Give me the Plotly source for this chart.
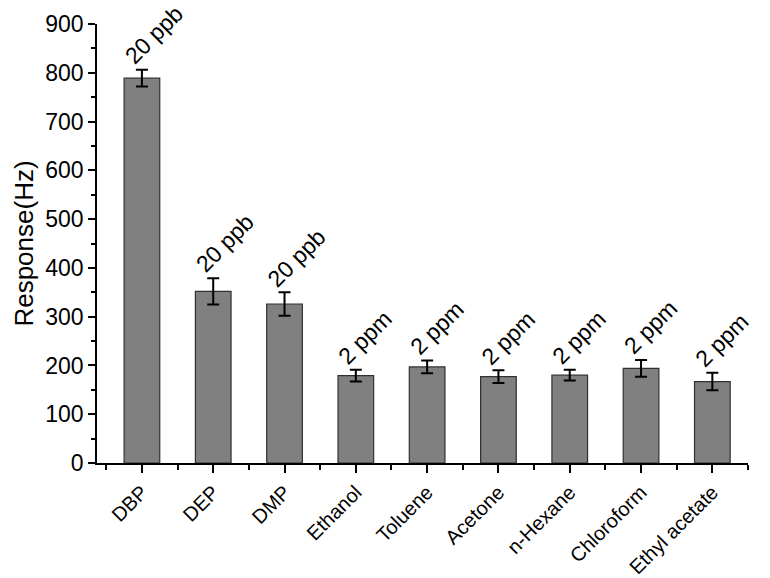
import plotly.graph_objects as go

# valores
categorias = ['DBP', 'DEP', 'DMP', 'Ethanol', 'Toluene', 'Acetone', 'n-Hexane', 'Chloroform', 'Ethyl acetate']
respuesta = [789, 352, 326, 179, 197, 177, 180, 194, 167]
error = [17, 27, 24, 12, 13, 13, 11, 17, 18]
concentracion = ['20 ppb', '20 ppb', '20 ppb', '2 ppm', '2 ppm', '2 ppm', '2 ppm', '2 ppm', '2 ppm']

x = list(range(len(categorias)))
fuente = 'Arial, Liberation Sans, sans-serif'

fig = go.Figure()
fig.add_trace(go.Bar(
    x=x,
    y=respuesta,
    width=0.5,
    marker=dict(color='#808080', line=dict(color='#303030', width=1.2)),
    error_y=dict(type='data', array=error, color='black', thickness=2, width=6),
))

# etiquetas de concentración sobre cada barra
for xi, yi, ei, txt in zip(x, respuesta, error, concentracion):
    fig.add_annotation(
        x=xi, y=yi + ei, text=txt, showarrow=False,
        textangle=-45, xanchor='left', yanchor='bottom',
        xshift=-25, yshift=-2,
        font=dict(family=fuente, size=23, color='black'),
    )

# la página html añade 8 px de margen, se compensa en los márgenes
fig.update_layout(
    width=770, height=578,
    margin=dict(l=89, r=30, t=16, b=123),
    plot_bgcolor='white', paper_bgcolor='white',
    showlegend=False,
    font=dict(family=fuente, color='black'),
    xaxis=dict(
        range=[-0.63, 8.5], automargin=False,
        tickmode='array', tickvals=x, ticktext=categorias,
        tickangle=-45, tickfont=dict(size=20),
        ticks='outside', ticklen=8, tickwidth=1.5, tickcolor='black',
        minor=dict(tick0=-0.5, dtick=1, ticks='outside', ticklen=5, tickwidth=1.5, tickcolor='black'),
        showline=True, linecolor='black', linewidth=1.5,
        showgrid=False, zeroline=False,
    ),
    yaxis=dict(
        range=[0, 900], automargin=False,
        tickmode='linear', tick0=0, dtick=100,
        tickfont=dict(size=23),
        ticks='outside', ticklen=7, tickwidth=1.5, tickcolor='black',
        minor=dict(dtick=50, ticks='outside', ticklen=4, tickwidth=1.5, tickcolor='black'),
        showline=True, linecolor='black', linewidth=1.5,
        showgrid=False, zeroline=False,
        title=dict(text='Response(Hz)', font=dict(size=26), standoff=4),
    ),
)

fig.write_html("out.html")
